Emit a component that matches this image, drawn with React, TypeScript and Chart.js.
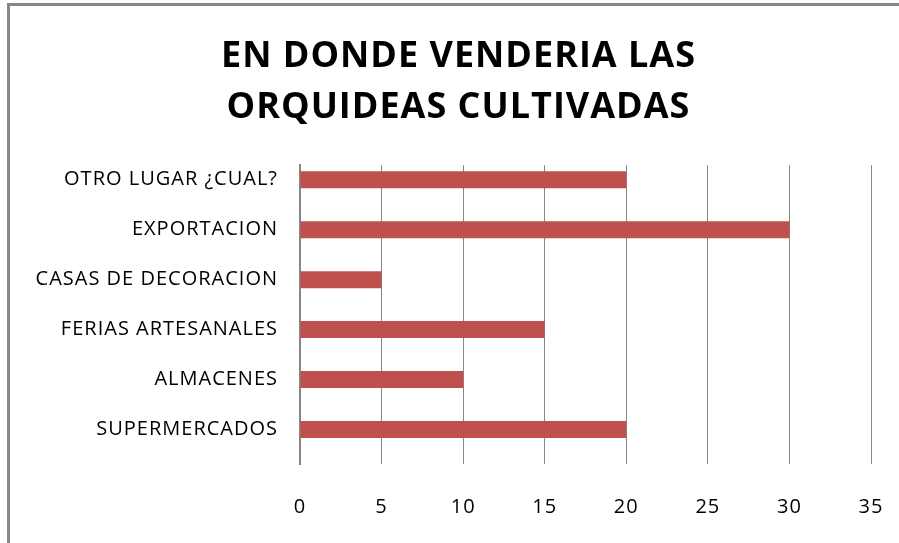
import React, { useEffect, useRef } from "react";
import { Chart, registerables } from "chart.js";

Chart.register(...registerables);

const titleLines = ["EN DONDE VENDERIA LAS", "ORQUIDEAS CULTIVADAS"];
const categories = [
  "OTRO LUGAR ¿CUAL?",
  "EXPORTACION",
  "CASAS DE DECORACION",
  "FERIAS ARTESANALES",
  "ALMACENES",
  "SUPERMERCADOS",
];
const values = [20, 30, 5, 15, 10, 20];
const xMin = 0;
const xMax = 35;
const xStep = 5;

const FONT = "'Open Sans', 'Liberation Sans', sans-serif";
const GRID = "#868686";

const spacingPlugin = {
  id: "letterSpacing",
  beforeUpdate(chart: any) {
    chart.ctx.letterSpacing = "1px";
  },
  beforeDraw(chart: any) {
    chart.ctx.letterSpacing = "1px";
  },
};

export default function App() {
  const ref = useRef<HTMLCanvasElement | null>(null);

  useEffect(() => {
    document.body.style.margin = "0";
    if (!ref.current) return;
    const chart = new Chart(ref.current, {
      type: "bar",
      data: {
        datasets: [
          {
            data: values.map((v, i) => ({ x: v, y: i })),
            backgroundColor: "#C0504D",
            borderWidth: 0,
            categoryPercentage: 1,
            barPercentage: 0.34,
          },
        ],
      },
      plugins: [spacingPlugin],
      options: {
        indexAxis: "y",
        animation: false,
        responsive: false,
        devicePixelRatio: 1,
        layout: { padding: { top: 0, left: 46, right: 28, bottom: 0 } },
        plugins: {
          legend: { display: false },
          tooltip: { enabled: false },
          title: {
            display: true,
            text: titleLines,
            color: "#000",
            font: { family: FONT, size: 36, weight: "bold", lineHeight: 1.42 },
            padding: { top: 31, bottom: 32 },
          },
        },
        scales: {
          x: {
            type: "linear",
            min: xMin,
            max: xMax,
            ticks: {
              stepSize: xStep,
              color: "#000",
              font: { family: FONT, size: 20 },
              padding: 31,
            },
            grid: { color: GRID, lineWidth: 1, drawTicks: false },
            border: { display: false },
            afterFit: (s: any) => {
              s.height = 79;
              s.paddingLeft = 0;
              s.paddingRight = 0;
            },
          },
          y: {
            type: "linear",
            reverse: true,
            offset: false,
            bounds: "data",
            min: -0.29,
            max: categories.length - 1 + 0.69,
            afterBuildTicks: (s: any) => {
              s.ticks = categories.map((_, i) => ({ value: i }));
            },
            ticks: {
              color: "#000",
              font: { family: FONT, size: 20 },
              padding: 22,
              autoSkip: false,
              callback: (v: any) => categories[v as number] ?? "",
            },
            grid: { display: false, drawTicks: false, offset: false },
            border: { display: true, color: GRID, width: 2 },
            afterFit: (s: any) => {
              s.width = 254;
              // let long category labels extend into the left padding
              s._computeLabelArea = () => undefined;
            },
          },
        },
      },
    });
    return () => chart.destroy();
  }, []);

  return (
    <div style={{ position: "fixed", left: 0, top: 0, width: 899, height: 543, background: "#fff" }}>
      <canvas ref={ref} width={899} height={543} style={{ position: "absolute", left: 0, top: 0 }} />
      <div
        style={{
          position: "absolute",
          left: 7,
          top: 3,
          width: 1000,
          height: 1000,
          borderLeft: `3px solid ${GRID}`,
          borderTop: `3px solid ${GRID}`,
          pointerEvents: "none",
        }}
      />
    </div>
  );
}
